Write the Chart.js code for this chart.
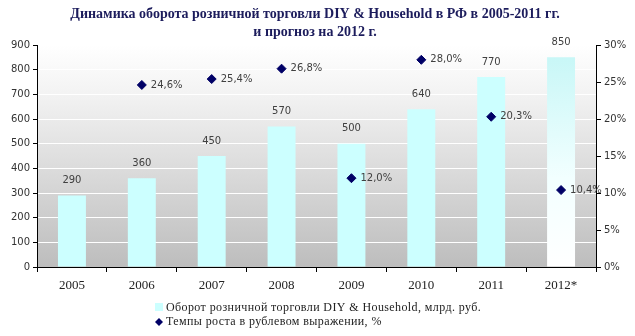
<!DOCTYPE html>
<html><head><meta charset="utf-8">
<script src="https://cdn.jsdelivr.net/npm/chart.js@4"></script>
<style>html,body{margin:0;padding:0;background:#fff}#w{width:635px;height:336px;position:relative}</style>
</head><body><div id="w"><canvas id="c" width="635" height="336"></canvas></div>
<script>
const categories = ['2005','2006','2007','2008','2009','2010','2011','2012*'];
const turnover = [290,360,450,570,500,640,770,850];
const growth = [null,24.6,25.4,26.8,12.0,28.0,20.3,10.4];
const leftTicks = [0,100,200,300,400,500,600,700,800,900];
const rightTicks = [0,5,10,15,20,25,30];
const titleLines = ['Динамика оборота розничной торговли DIY & Household в РФ в 2005-2011 гг.','и прогноз на 2012 г.'];
const seriesNames = ['Оборот розничной торговли DIY & Household, млрд. руб.','Темпы роста в рублевом выражении, %'];

const bgPlugin = {
  id:'bg',
  beforeDraw(chart){
    const {ctx, chartArea:a} = chart;
    const g = ctx.createLinearGradient(0,a.top,0,a.bottom);
    g.addColorStop(0,'#ffffff');
    g.addColorStop(0.2,'#f4f4f4');
    g.addColorStop(1,'#bdbdbd');
    ctx.save(); ctx.fillStyle=g; ctx.fillRect(a.left,a.top,a.right-a.left,a.bottom-a.top); ctx.restore();
  },
  afterDraw(chart){
    const ctx = chart.ctx;
    ctx.save();
    // title
    ctx.fillStyle='#1c1c5c';
    ctx.font='bold 14px "Liberation Serif"';
    ctx.textAlign='center'; ctx.textBaseline='middle';
    ctx.fillText(titleLines[0],315,14);
    ctx.fillText(titleLines[1],315,32);
    // data labels
    ctx.font='10px "DejaVu Sans"';
    ctx.fillStyle='#404040';
    const m0 = chart.getDatasetMeta(0);
    m0.data.forEach((el,i)=>{ ctx.textAlign='center'; ctx.fillText(String(turnover[i]), el.x, el.y-15); });
    const m1 = chart.getDatasetMeta(1);
    m1.data.forEach((el,i)=>{ if(growth[i]==null) return; ctx.textAlign='left'; ctx.fillText(growth[i].toFixed(1).replace('.',',')+'%', el.x+9, el.y); });
    // legend
    ctx.font='12px "Liberation Serif"';
    try{ ctx.letterSpacing='0.4px'; }catch(e){}
    ctx.textAlign='left';
    ctx.fillStyle='#ccffff'; ctx.fillRect(155,303,8,8);
    ctx.fillStyle='#222'; ctx.fillText(seriesNames[0],166,308);
    ctx.fillStyle='#000066';
    ctx.beginPath(); ctx.moveTo(159,318); ctx.lineTo(163,322); ctx.lineTo(159,326); ctx.lineTo(155,322); ctx.closePath(); ctx.fill();
    ctx.fillStyle='#222'; ctx.fillText(seriesNames[1],166,322);
    ctx.restore();
  }
};

new Chart(document.getElementById('c'),{
  data:{
    labels:categories,
    datasets:[
      {type:'bar',data:turnover,yAxisID:'y',order:2,
       backgroundColor(ctx){
         if(ctx.dataIndex===7 && ctx.chart.chartArea){
           const a=ctx.chart.chartArea;
           const g=ctx.chart.ctx.createLinearGradient(0,a.top,0,a.bottom);
           g.addColorStop(0,'#c4f6f6'); g.addColorStop(0.6,'#f2ffff'); g.addColorStop(1,'#ffffff');
           return g;
         }
         return '#ccffff';
       },
       barPercentage:0.4,categoryPercentage:1},
      {type:'line',data:growth,yAxisID:'y1',order:1,showLine:false,
       pointStyle:'rectRot',pointRadius:4.5,pointHoverRadius:4.5,
       backgroundColor:'#000066',borderColor:'#000066'}
    ]
  },
  options:{
    responsive:false,animation:false,
    layout:{padding:{top:45,bottom:47,left:0,right:0}},
    plugins:{legend:{display:false},title:{display:false},tooltip:{enabled:false}},
    scales:{
      x:{offset:true,
        grid:{display:true,drawOnChartArea:false,offset:true,color:'#000',tickLength:5,tickColor:'#000'},
        border:{color:'#000',width:1},
        ticks:{color:'#222',font:{family:'Liberation Serif',size:13},padding:6,maxRotation:0},
        afterFit(s){s.height=22;}
      },
      y:{position:'left',min:0,max:900,
        afterBuildTicks(s){s.ticks=leftTicks.map(v=>({value:v}));},
        grid:{color:'#ffffff',drawTicks:true,tickLength:4,tickColor:'#000'},
        border:{color:'#000',width:1},
        ticks:{color:'#333',font:{family:'DejaVu Sans',size:10},padding:3},
        afterFit(s){s.width=37;}
      },
      y1:{position:'right',min:0,max:30,
        afterBuildTicks(s){s.ticks=rightTicks.map(v=>({value:v}));},
        grid:{drawOnChartArea:false,tickLength:5,tickColor:'#000'},
        border:{color:'#000',width:1},
        ticks:{color:'#333',font:{family:'DejaVu Sans',size:10},padding:3,callback:v=>v+'%'},
        afterFit(s){s.width=39;}
      }
    }
  },
  plugins:[bgPlugin]
});
</script></body></html>
